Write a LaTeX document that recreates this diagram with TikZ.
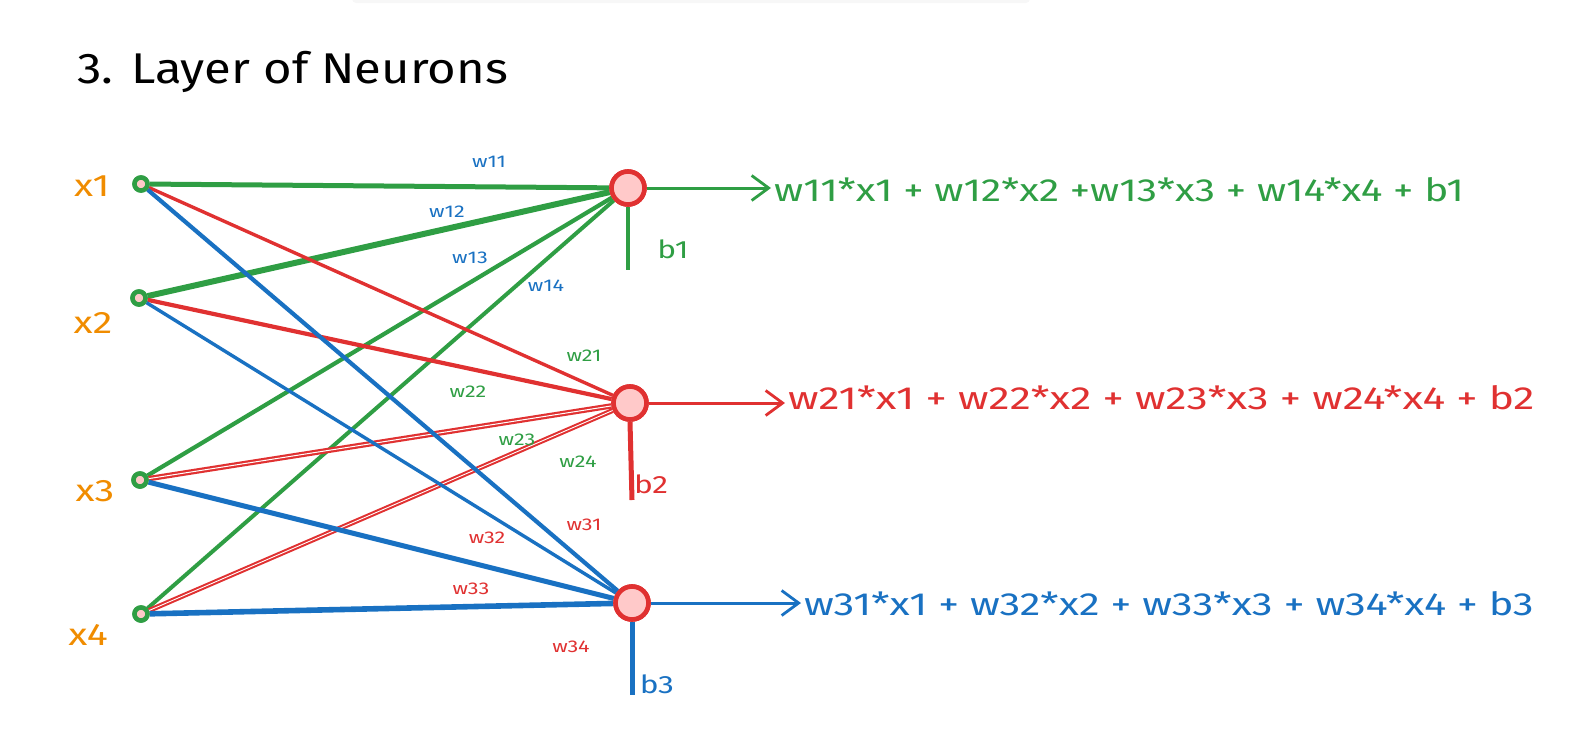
\documentclass[tikz,border=0pt]{standalone}
\usepackage{fontspec}
\setmainfont{Fira Sans}
\newfontfamily\wideA[FakeStretch=1.14]{Fira Sans}
\newfontfamily\wideB[FakeStretch=1.27]{Fira Sans}
\newfontfamily\wideC[FakeStretch=1.33]{Fira Sans}
\newfontfamily\wideD[FakeStretch=1.30]{Fira Sans}
\usetikzlibrary{arrows.meta}
\definecolor{cgreen}{HTML}{2F9E44}
\definecolor{cred}{HTML}{E03131}
\definecolor{cblue}{HTML}{1971C2}
\definecolor{corange}{HTML}{F08C00}
\definecolor{cpink}{HTML}{FFC9C9}
\tikzset{
  inp/.style={circle, draw=cgreen, fill=cpink, line width=4.5pt, minimum size=13pt, inner sep=0pt},
  neuron/.style={circle, draw=cred, fill=cpink, line width=4.6pt, minimum size=33pt, inner sep=0pt},
  xlab/.style={text=corange, font=\wideB\fontsize{31}{34}\selectfont},
  wlab/.style={font=\wideB\fontsize{17}{19}\selectfont},
  eqlab/.style={font=\fontsize{32}{36}\selectfont, anchor=west, inner sep=3pt},
  blab/.style={font=\wideB\fontsize{25}{28}\selectfont},
  outarrow/.style={-{Straight Barb[length=17pt,width=25pt,line width=2.8pt]}, line width=3pt},
}
\begin{document}
\begin{tikzpicture}[x=1pt,y=-1pt]
\useasboundingbox (0,0) rectangle (1575,737);
\fill[black!3, rounded corners=4pt] (352,-6) rectangle (1030,3);
\node[anchor=west, font=\wideA\fontsize{43}{47}\selectfont] (title) at (74,72) {3. Layer of Neurons};

% inputs
\node[inp] (x1) at (141,184) {};
\node[inp] (x2) at (139,298) {};
\node[inp] (x3) at (140,480) {};
\node[inp] (x4) at (141,614) {};
\node[xlab] (lx1) at (92,186) {x1};
\node[xlab] (lx2) at (93,323) {x2};
\node[xlab] (lx3) at (95,491) {x3};
\node[xlab] (lx4) at (88,635) {x4};

% neurons
\coordinate (c1) at (628,188);
\coordinate (c2) at (630,403);
\coordinate (c3) at (632,603);
\node[neuron] (n1) at (c1) {};
\node[neuron] (n2) at (c2) {};
\node[neuron] (n3) at (c3) {};

% edges
\draw[cgreen, line width=5pt] (x1) -- (n1);
\draw[cgreen, line width=6pt] (x2) -- (n1);
\draw[cgreen, line width=4.2pt] (x3) -- (n1);
\draw[cgreen, line width=4pt] (x4) -- (n1);
\draw[cred, line width=3.4pt] (x1) -- (n2);
\draw[cred, line width=4.2pt] (x2) -- (n2);
\draw[cred, line width=5.4pt] (x3) -- (n2);
\draw[white, line width=1pt] (x3) -- (n2);
\draw[cred, line width=5pt] (x4) -- (n2);
\draw[white, line width=0.9pt] (x4) -- (n2);
\draw[cblue, line width=4.2pt] (x1) -- (n3);
\draw[cblue, line width=3.4pt] (x2) -- (n3);
\draw[cblue, line width=5pt] (x3) -- (n3);
\draw[cblue, line width=5.6pt] (x4) -- (n3);
% redraw node tops
\node[inp] at (x1) {};
\node[inp] at (x2) {};
\node[inp] at (x3) {};
\node[inp] at (x4) {};
\node[neuron] at (c1) {};
\node[neuron] at (c2) {};
\node[neuron] at (c3) {};

% weight labels
\node[wlab, text=cblue] (w11) at (489,162) {w11};
\node[wlab, text=cblue] (w12) at (447,212) {w12};
\node[wlab, text=cblue] (w13) at (470,258) {w13};
\node[wlab, text=cblue] (w14) at (546,286) {w14};
\node[wlab, text=cgreen] (w21) at (584,356) {w21};
\node[wlab, text=cgreen] (w22) at (468,392) {w22};
\node[wlab, text=cgreen] (w23) at (517,440) {w23};
\node[wlab, text=cgreen] (w24) at (578,462) {w24};
\node[wlab, text=cred] (w31) at (584,525) {w31};
\node[wlab, text=cred] (w32) at (487,538) {w32};
\node[wlab, text=cred] (w33) at (471,589) {w33};
\node[wlab, text=cred] (w34) at (571,647) {w34};

% biases
\coordinate (b1e) at (628,270);
\coordinate (b2e) at (632,500);
\coordinate (b3e) at (632,695);
\draw[cgreen, line width=4pt] (n1.south) -- (b1e);
\draw[cred, line width=5pt] (n2.south) -- (b2e);
\draw[cblue, line width=5pt] (n3.south) -- (b3e);
\node[blab, text=cgreen] (lb1) at (673,249) {b1};
\node[blab, text=cred] (lb2) at (651,484) {b2};
\node[blab, text=cblue] (lb3) at (657,684) {b3};

% outputs
\node[eqlab, text=cgreen] (eq1) at (771,190) {\wideB w11*x1 + w12*x2 +w13*x3 + w14*x4 + b1};
\node[eqlab, text=cred] (eq2) at (785,398) {\wideC w21*x1 + w22*x2 + w23*x3 + w24*x4 + b2};
\node[eqlab, text=cblue] (eq3) at (801,604) {\wideD w31*x1 + w32*x2 + w33*x3 + w34*x4 + b3};
\draw[outarrow, cgreen] (n1.east) -- (eq1.west |- n1.east);
\draw[outarrow, cred] (n2.east) -- (eq2.west |- n2.east);
\draw[outarrow, cblue] (n3.east) -- (eq3.west |- n3.east);
\end{tikzpicture}
\end{document}
